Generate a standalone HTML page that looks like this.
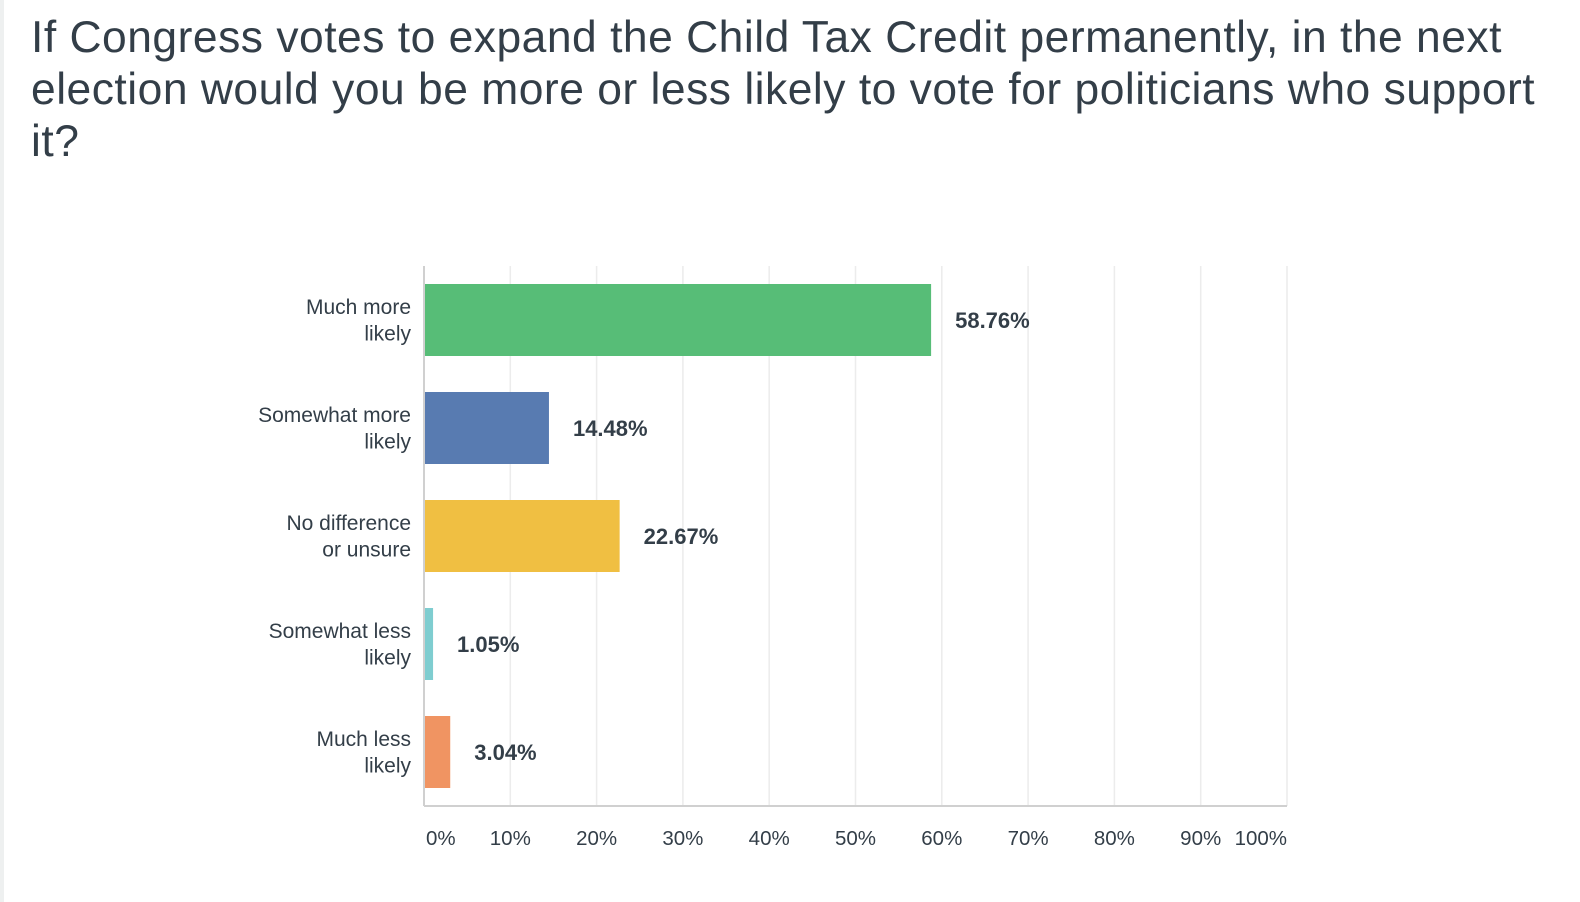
<!DOCTYPE html>
<html><head><meta charset="utf-8"><style>
body{margin:0;width:1580px;height:902px;background:#fff;overflow:hidden;font-family:"Liberation Sans",sans-serif}
#strip{position:absolute;left:0;top:0;width:4px;height:902px;background:#eef0f0}
h1{position:absolute;left:31px;top:12px;margin:0;width:1560px;white-space:nowrap;font-weight:normal;font-size:44.4px;line-height:52px;color:#333e48;letter-spacing:0.5px}
</style></head><body>
<div id="strip"></div>
<h1>If Congress votes to expand the Child Tax Credit permanently, in the next<br>election would you be more or less likely to vote for politicians who support<br>it?</h1>
<svg id="chart" width="1580" height="902" style="position:absolute;left:0;top:0"></svg>
<script>
const categories=[["Much more","likely"],["Somewhat more","likely"],["No difference","or unsure"],["Somewhat less","likely"],["Much less","likely"]];
const values=[58.76,14.48,22.67,1.05,3.04];
const colors=["#57bd77","#587bb1","#f0bf42","#7fcdd0","#f09462"];
const ticks=[0,10,20,30,40,50,60,70,80,90,100];
const tickLabels=["0%","10%","20%","30%","40%","50%","60%","70%","80%","90%","100%"];
(function(){
const svg=document.getElementById('chart');
const NS="http://www.w3.org/2000/svg";
const x0=424,x1=1287,plotTop=266,plotBottom=806;
const xs=v=>x0+(x1-x0)*v/100;
const band=(plotBottom-plotTop)/categories.length;
const yc=i=>plotTop+band*(i+0.5);
function mk(t,a){const e=document.createElementNS(NS,t);for(const k in a)e.setAttribute(k,a[k]);svg.appendChild(e);return e;}
ticks.forEach((t,i)=>{
  if(t>0){const g=mk('line',{x1:xs(t),x2:xs(t),y1:plotTop,y2:plotBottom,stroke:'#ececec','stroke-width':1.5});
  
  }
  const anchor=i==0?'start':(i==ticks.length-1?'end':'middle');
  const tx=i==0?xs(t)+2:xs(t);
  const l=mk('text',{x:tx,y:845,'text-anchor':anchor,'font-size':20.5,fill:'#333e48','font-family':'Liberation Sans, sans-serif'});
  l.textContent=tickLabels[i];
  
  
});
const ax=mk('line',{x1:x0,x2:x1,y1:plotBottom,y2:plotBottom,stroke:'#d0d0d0','stroke-width':2});


const ay=mk('line',{x1:x0,x2:x0,y1:plotTop,y2:plotBottom,stroke:'#d0d0d0','stroke-width':2});


values.forEach((v,i)=>{
  const c=yc(i),h=72;
  const r=mk('rect',{x:x0+1,y:c-h/2,width:Math.max(0,xs(v)-x0-1),height:h,fill:colors[i]});
  
  
  const vl=mk('text',{x:xs(v)+24,y:c+8,'font-size':22,'font-weight':'bold',fill:'#333e48','font-family':'Liberation Sans, sans-serif'});
  vl.textContent=v.toFixed(2)+'%';
  
  
  categories[i].forEach((ln,j)=>{
    const t=mk('text',{x:411,y:c-6+j*26.5,'text-anchor':'end','font-size':21,fill:'#333e48','font-family':'Liberation Sans, sans-serif'});
    t.textContent=ln;
    
    
  });
});
})();
</script>
</body></html>
